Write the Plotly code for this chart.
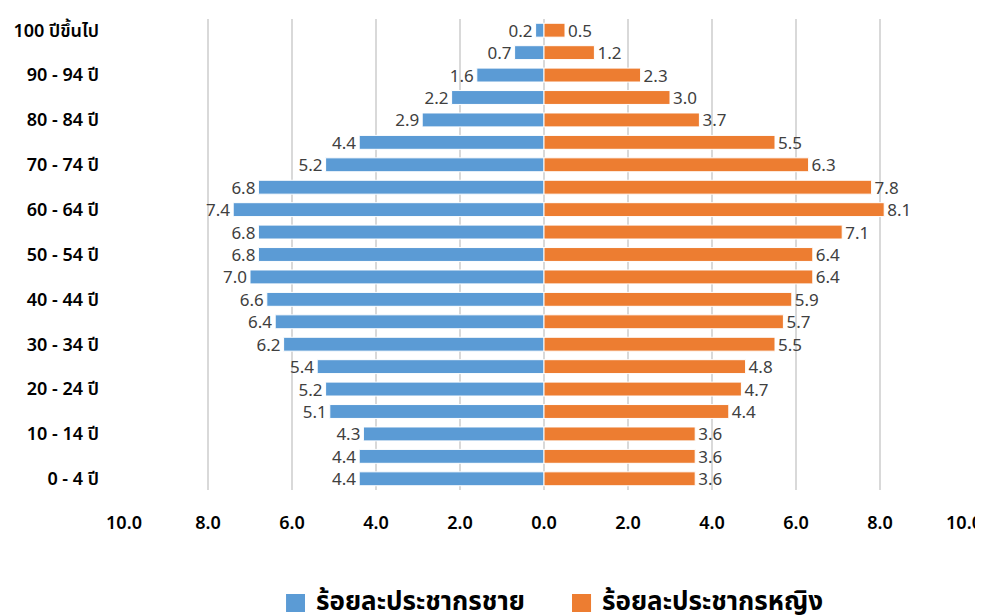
import plotly.graph_objects as go

age_groups = ["0 - 4 ปี", "5 - 9 ปี", "10 - 14 ปี", "15 - 19 ปี", "20 - 24 ปี", "25 - 29 ปี",
              "30 - 34 ปี", "35 - 39 ปี", "40 - 44 ปี", "45 - 49 ปี", "50 - 54 ปี", "55 - 59 ปี",
              "60 - 64 ปี", "65 - 69 ปี", "70 - 74 ปี", "75 - 79 ปี", "80 - 84 ปี", "85 - 89 ปี",
              "90 - 94 ปี", "95 - 99 ปี", "100 ปีขึ้นไป"]
male = [4.4, 4.4, 4.3, 5.1, 5.2, 5.4, 6.2, 6.4, 6.6, 7.0, 6.8, 6.8, 7.4, 6.8, 5.2, 4.4, 2.9, 2.2, 1.6, 0.7, 0.2]
female = [3.6, 3.6, 3.6, 4.4, 4.7, 4.8, 5.5, 5.7, 5.9, 6.4, 6.4, 7.1, 8.1, 7.8, 6.3, 5.5, 3.7, 3.0, 2.3, 1.2, 0.5]
x_ticks = [-10, -8, -6, -4, -2, 0, 2, 4, 6, 8, 10]
x_tick_text = ["10.0", "8.0", "6.0", "4.0", "2.0", "0.0", "2.0", "4.0", "6.0", "8.0", "10.0"]
y_ticks = age_groups[::2]
series_names = ["ร้อยละประชากรชาย", "ร้อยละประชากรหญิง"]
series_colors = ["#5B9BD5", "#ED7D31"]

FONT = "Noto Sans, Noto Sans Thai, Tahoma, sans-serif"

fig = go.Figure()
fig.add_trace(go.Bar(
    y=age_groups, x=[-v for v in male], orientation="h",
    name=series_names[0], marker=dict(color=series_colors[0], line=dict(color="white", width=1)),
    text=[f"{v:.1f}" for v in male], textposition="outside", cliponaxis=False,
    constraintext="none", customdata=male, hovertemplate="%{y}: %{customdata:.1f}<extra></extra>",
    textfont=dict(color="#404040", size=17, family=FONT), width=0.62,
))
fig.add_trace(go.Bar(
    y=age_groups, x=female, orientation="h",
    name=series_names[1], marker=dict(color=series_colors[1], line=dict(color="white", width=1)),
    text=[f"{v:.1f}" for v in female], textposition="outside", cliponaxis=False,
    constraintext="none",
    textfont=dict(color="#404040", size=17, family=FONT), width=0.62,
))

# custom legend (larger square swatches, like the reference)
legend_items = [
    dict(sq=(0.1929, 0.2155), tx=0.2262),
    dict(sq=(0.5333, 0.5560), tx=0.5667),
]
for item, name, color in zip(legend_items, series_names, series_colors):
    fig.add_shape(type="rect", xref="paper", yref="paper",
                  x0=item["sq"][0], x1=item["sq"][1], y0=-0.2590, y1=-0.2208,
                  fillcolor=color, line=dict(width=0))
    fig.add_annotation(xref="paper", yref="paper", x=item["tx"], y=-0.2335,
                       xanchor="left", yanchor="middle", showarrow=False, text=name,
                       font=dict(size=26, family=FONT, color="#000000", weight="bold"))

fig.update_layout(
    width=975, height=608, barmode="overlay",
    margin=dict(l=116, r=19, t=11, b=126, autoexpand=False),
    plot_bgcolor="white", paper_bgcolor="white",
    font=dict(family=FONT, color="#000000"),
    xaxis=dict(range=[-10, 10], tickvals=x_ticks, ticktext=x_tick_text, automargin=False,
               showgrid=True, gridcolor="#D9D9D9", gridwidth=1.5, zeroline=True,
               zerolinecolor="#D9D9D9", zerolinewidth=1.5,
               tickfont=dict(size=18, family=FONT, color="#000000", weight=600),
               ticklabelstandoff=20),
    yaxis=dict(type="category", categoryorder="array", categoryarray=age_groups,
               tickvals=y_ticks, ticktext=y_ticks, showgrid=False, automargin=False,
               tickfont=dict(size=18, family=FONT, color="#000000", weight=600),
               ticklabelstandoff=24),
    showlegend=False,
)

fig.write_html("out.html")
